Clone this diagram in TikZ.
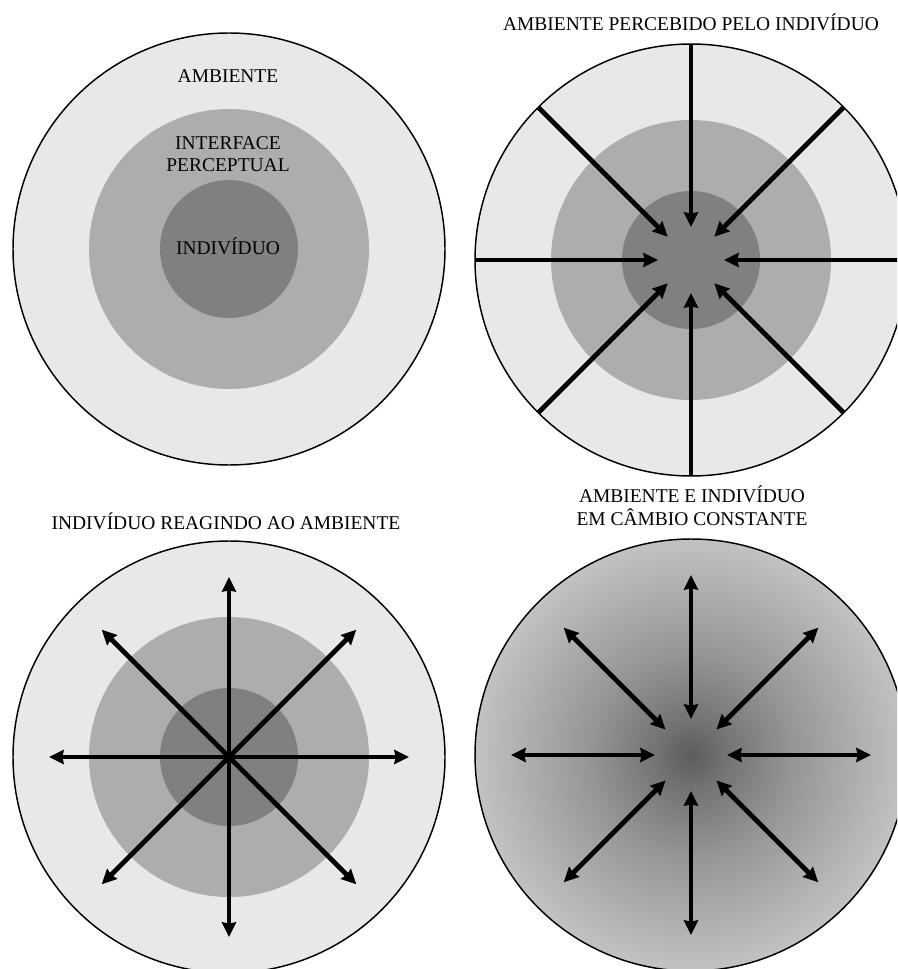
\documentclass[tikz,border=0pt]{standalone}
\usepackage{fontspec}
\setmainfont{Liberation Serif}
\usetikzlibrary{arrows.meta,calc}
% dark spot in the middle, fading out to the rim
\pgfdeclareradialshading{envfade}{\pgfpoint{0bp}{0bp}}{%
  color(0bp)=(black!64); color(4bp)=(black!55); color(12bp)=(black!41);
  color(25bp)=(black!24); color(50bp)=(black!24)}
\tikzset{
  % --- the three layers --------------------------------------------------------
  envring/.style={draw=black,line width=1.1pt,fill=black!9},
  ifacering/.style={fill=black!32},
  selfring/.style={fill=black!50},
  % --- the rays ----------------------------------------------------------------
  ray/.style={line width=3.6pt,-{Stealth[length=11pt,width=10.5pt,inset=1pt]}},
  tworay/.style={line width=3.6pt,
                 {Stealth[length=11pt,width=10.5pt,inset=1pt]}-{Stealth[length=11pt,width=10.5pt,inset=1pt]}},
  lab/.style={font=\fontsize{14.6}{17}\selectfont,inner sep=0pt,align=center,anchor=base},
}

\begin{document}
\begin{tikzpicture}[x=0.75pt,y=0.75pt]
  \useasboundingbox (0,0) rectangle (897,-969);
  \clip (0,0) rectangle (897,-969);

  % ---- the four centres ----
  \coordinate (tl) at (229,-249);
  \coordinate (tr) at (691,-260);
  \coordinate (bl) at (229,-757);
  \coordinate (br) at (691,-755);

  % ---- top left: the layers, named ----
  \draw[envring] (tl) circle (216);
  \fill[ifacering] (tl) circle (140);
  \fill[selfring] (tl) circle (69);
  \node[lab] (amb)   at (228,-83)  {AMBIENTE};
  \node[lab] (iface) at (228,-172) {INTERFACE\\PERCEPTUAL};
  \node[lab] (ind)   at (228,-255) {INDIVÍDUO};

  % ---- top right: the world comes in ----
  \draw[envring] (tr) circle (216);
  \fill[ifacering] (tr) circle (140);
  \fill[selfring] (tr) circle (69);
  \foreach \a in {0,45,...,315}
    \draw[ray] ($(tr)+(\a:216)$) -- ($(tr)+(\a:33)$);
  \node[lab] (perc) at (691,-31) {AMBIENTE PERCEBIDO PELO INDIVÍDUO};

  % ---- bottom left: the individual answers ----
  \draw[envring] (bl) circle (216);
  \fill[ifacering] (bl) circle (140);
  \fill[selfring] (bl) circle (69);
  \foreach \a in {0,45,...,315}
    \draw[ray] (bl) -- ($(bl)+(\a:180)$);
  \node[lab] (reac) at (226,-529) {INDIVÍDUO REAGINDO AO AMBIENTE};

  % ---- bottom right: both at once ----
  \shadedraw[draw=black,line width=1.1pt,shading=envfade] (br) circle (216);
  \foreach \a in {0,45,...,315}
    \draw[tworay] ($(br)+(\a:36)$) -- ($(br)+(\a:180)$);
  \node[lab] (camb) at (692,-525) {AMBIENTE E INDIVÍDUO\\EM CÂMBIO CONSTANTE};
\end{tikzpicture}
\end{document}
